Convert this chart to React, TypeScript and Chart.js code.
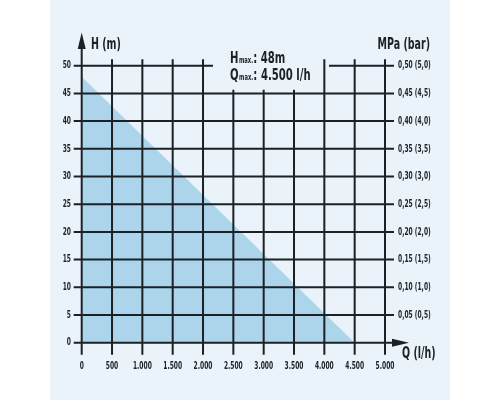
import { useEffect, useRef } from "react";
import { Chart, registerables, Plugin } from "chart.js";

Chart.register(...registerables);

// pump curve: flow Q (l/h) against head H (m)
const flowQ = [0, 4500];
const headH = [48, 0];

const qTickLabels = ["0", "500", "1.000", "1.500", "2.000", "2.500", "3.000", "3.500", "4.000", "4.500", "5.000"];
const hTickLabels = ["0", "5", "10", "15", "20", "25", "30", "35", "40", "45", "50"];
const mpaTickLabels = [
  "",
  "0,05 (0,5)",
  "0,10 (1,0)",
  "0,15 (1,5)",
  "0,20 (2,0)",
  "0,25 (2,5)",
  "0,30 (3,0)",
  "0,35 (3,5)",
  "0,40 (4,0)",
  "0,45 (4,5)",
  "0,50 (5,0)",
];

const FONT = "'DejaVu Sans Condensed', 'DejaVu Sans', sans-serif";
const INK = "#1b2125";

// condensed text: the original uses a narrow grotesque
const drawNarrow = (
  ctx: CanvasRenderingContext2D,
  text: string,
  x: number,
  y: number,
  size: number,
  align: CanvasTextAlign,
  squeeze = 0.63
) => {
  ctx.save();
  ctx.font = `bold ${size}px ${FONT}`;
  ctx.textAlign = align;
  ctx.translate(x, y);
  ctx.scale(squeeze, 1);
  ctx.fillText(text, 0, 0);
  const w = ctx.measureText(text).width * squeeze;
  ctx.restore();
  return w;
};

const backgroundPlugin: Plugin = {
  id: "panelBackground",
  beforeDraw(chart) {
    const { ctx, width, height } = chart;
    ctx.save();
    ctx.fillStyle = "#ffffff";
    ctx.fillRect(0, 0, width, height);
    ctx.fillStyle = "#eaf3fa";
    ctx.fillRect(50, 0, 400, height);
    ctx.restore();
  },
};

const gridPlugin: Plugin = {
  id: "pumpGrid",
  afterDatasetsDraw(chart) {
    const { ctx, chartArea } = chart;
    const x = chart.scales.x;
    const y = chart.scales.y;
    const y2 = chart.scales.y2;
    const { left, right, top, bottom } = chartArea;
    ctx.save();
    ctx.strokeStyle = INK;
    ctx.lineWidth = 2;
    ctx.beginPath();
    // vertical lines
    x.ticks.forEach((t) => {
      const px = x.getPixelForValue(t.value);
      const underNote = t.value >= 2500 && t.value <= 3500;
      ctx.moveTo(px, bottom + 12);
      ctx.lineTo(px, underNote ? top + 24 : top - 6.5);
    });
    // horizontal lines
    y.ticks.forEach((t) => {
      const py = y.getPixelForValue(t.value);
      if (t.value === 50) {
        ctx.moveTo(left - 8, py);
        ctx.lineTo(213, py);
        ctx.moveTo(329, py);
        ctx.lineTo(right + 9, py);
      } else if (t.value === 0) {
        ctx.moveTo(left - 8, py);
        ctx.lineTo(right + 8, py);
      } else {
        ctx.moveTo(left - 8, py);
        ctx.lineTo(right + 9, py);
      }
    });
    // axis shafts
    ctx.moveTo(left, top);
    ctx.lineTo(left, 48);
    const y0 = y.getPixelForValue(0);
    ctx.moveTo(right, y0);
    ctx.lineTo(393, y0);
    ctx.stroke();

    // arrow heads
    ctx.fillStyle = INK;
    ctx.beginPath();
    ctx.moveTo(left, 32.5);
    ctx.lineTo(left - 4, 49);
    ctx.lineTo(left + 4, 49);
    ctx.closePath();
    ctx.fill();
    ctx.beginPath();
    ctx.moveTo(409, y0);
    ctx.lineTo(392, y0 - 4);
    ctx.lineTo(392, y0 + 4);
    ctx.closePath();
    ctx.fill();

    // tick labels, placed by the scales
    ctx.textBaseline = "middle";
    x.ticks.forEach((t, i) => {
      drawNarrow(ctx, qTickLabels[i] ?? "", x.getPixelForValue(t.value), 366, 10.5, "center");
    });
    y.ticks.forEach((t, i) => {
      drawNarrow(ctx, hTickLabels[i] ?? "", 71, y.getPixelForValue(t.value), 10.5, "right");
    });
    y2.ticks.forEach((t, i) => {
      drawNarrow(ctx, mpaTickLabels[i] ?? "", 398, y2.getPixelForValue(t.value), 10.5, "left");
    });

    // axis titles
    drawNarrow(ctx, "H (m)", 91, 45, 16, "left", 0.66);
    drawNarrow(ctx, "MPa (bar)", 430, 45, 16, "right", 0.66);
    drawNarrow(ctx, "Q (l/h)", 402, 354, 16, "left", 0.66);

    // note with maximum values
    const note = (big: string, rest: string, ny: number) => {
      ctx.textBaseline = "alphabetic";
      let cx = 230;
      cx += drawNarrow(ctx, big, cx, ny, 16.5, "left", 0.68) + 0.5;
      cx += drawNarrow(ctx, "max.", cx, ny, 8.5, "left", 0.68);
      drawNarrow(ctx, rest, cx, ny, 16.5, "left", 0.68);
    };
    note("H", ": 48m", 63);
    note("Q", ": 4.500 l/h", 80);
    ctx.restore();
  },
};

export default function App() {
  const canvasRef = useRef<HTMLCanvasElement | null>(null);

  useEffect(() => {
    if (!canvasRef.current) return;

    const chart = new Chart(canvasRef.current, {
      type: "line",
      data: {
        datasets: [
          {
            label: "H",
            data: flowQ.map((q, i) => ({ x: q, y: headH[i] })),
            fill: "origin",
            backgroundColor: "#acd5ec",
            borderWidth: 0,
            pointRadius: 0,
          },
        ],
      },
      options: {
        animation: false,
        responsive: false,
        devicePixelRatio: 1,
        layout: { padding: { top: 65.7, left: 0, right: 0, bottom: 0 } },
        plugins: { legend: { display: false }, tooltip: { enabled: false } },
        scales: {
          x: {
            type: "linear",
            min: 0,
            max: 5000,
            grid: { display: false, drawTicks: false },
            border: { display: false },
            ticks: { stepSize: 500, display: false },
            afterFit: (s) => {
              s.height = 57.3;
            },
          },
          y: {
            min: 0,
            max: 50,
            grid: { display: false, drawTicks: false },
            border: { display: false },
            ticks: { stepSize: 5, display: false },
            afterFit: (s) => {
              s.width = 81.7;
            },
          },
          y2: {
            position: "right",
            min: 0,
            max: 50,
            grid: { display: false, drawTicks: false },
            border: { display: false },
            ticks: { stepSize: 5, display: false },
            afterFit: (s) => {
              s.width = 115;
            },
          },
        },
      },
      plugins: [backgroundPlugin, gridPlugin],
    });

    return () => chart.destroy();
  }, []);

  return (
    <div style={{ position: "fixed", left: 0, top: 0, width: 500, height: 400 }}>
      <canvas ref={canvasRef} width={500} height={400} />
    </div>
  );
}
